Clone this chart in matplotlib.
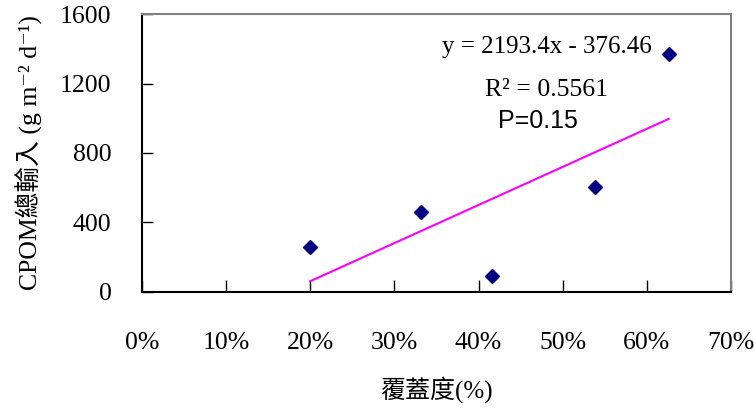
import numpy as np
import matplotlib
matplotlib.use('Agg')
import matplotlib.pyplot as plt

# coverage (fraction) vs total CPOM input
coverage = [0.200, 0.331, 0.416, 0.538, 0.626]
cpom_input = [259, 460, 92, 604, 1370]

slope = 2193.4
intercept = -376.46
r_squared = '0.5561'
p_value = '0.15'

x_ticks = [0.0, 0.1, 0.2, 0.3, 0.4, 0.5, 0.6, 0.7]
y_ticks = [0, 400, 800, 1200, 1600]

serif = ['Liberation Serif', 'Noto Sans CJK TC', 'DejaVu Serif']
plt.rcParams['font.family'] = serif

fig = plt.figure(figsize=(7.54, 4.12), dpi=100)
ax = fig.add_axes([0.1883, 0.2913, 0.7812, 0.6747])

ax.plot(coverage, cpom_input, linestyle='none', marker='D',
        markersize=7, color='#000080', zorder=3)

# trend line over the data range
fit_x = np.array([min(coverage), max(coverage)])
ax.plot(fit_x, slope * fit_x + intercept, color='#ff00ff', lw=1.5)

ax.set_xlim(0, 0.7)
ax.set_ylim(0, 1600)
ax.set_xticks(x_ticks)
ax.set_xticklabels(['{:d}%'.format(int(round(t * 100))) for t in x_ticks])
ax.set_yticks(y_ticks)
ax.tick_params(axis='x', direction='in', length=9, width=1, pad=29,
               labelsize=18.5)
ax.tick_params(axis='y', direction='in', length=8, width=1, pad=22,
               labelsize=18.5)

for side in ['left', 'bottom']:
    ax.spines[side].set_color('black')
    ax.spines[side].set_linewidth(1.5)
for side in ['top', 'right']:
    ax.spines[side].set_color('#808080')
    ax.spines[side].set_linewidth(1.5)

ax.set_xlabel('覆蓋度(%)', fontsize=18, labelpad=16)
ax.set_ylabel('CPOM總輸入 (g m⁻² d⁻¹)', fontsize=18.5, labelpad=12)

ax.text(0.481, 1410, 'y = {}x - {}'.format(slope, -intercept),
        fontsize=18, ha='center', va='center')
ax.text(0.481, 1163, 'R² = ' + r_squared, fontsize=18.5,
        ha='center', va='center')
ax.text(0.471, 984, 'P=' + p_value, fontsize=18, ha='center', va='center',
        family=['Liberation Sans', 'DejaVu Sans'])

fig.savefig('out.png', dpi=100)
